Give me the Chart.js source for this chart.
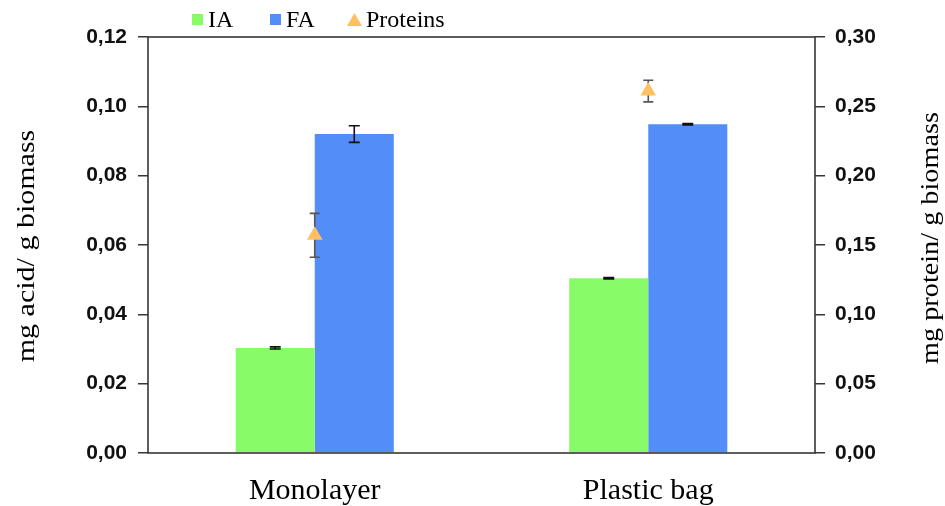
<!DOCTYPE html>
<html><head><meta charset="utf-8">
<script src="https://cdn.jsdelivr.net/npm/chart.js@4/dist/chart.umd.min.js"></script>
<style>html,body{margin:0;padding:0;background:#fff}#wrap{width:945px;height:506px;position:relative}</style>
</head><body><div id="wrap"><canvas id="c"></canvas></div>
<script>
const categories = ['Monolayer', 'Plastic bag'];
const iaValues = [0.0303, 0.0504];
const iaErrors = [0.0003, 0.0002];
const faValues = [0.0920, 0.0948];
const faErrors = [0.0024, 0.0002];
const proteinValues = [0.157, 0.261];
const proteinErrors = [0.0158, 0.0078];
const leftTickLabels = ['0,00', '0,02', '0,04', '0,06', '0,08', '0,10', '0,12'];
const rightTickLabels = ['0,00', '0,05', '0,10', '0,15', '0,20', '0,25', '0,30'];
const leftTitle = 'mg acid/ g biomass';
const rightTitle = 'mg protein/ g biomass';

const FRAME = '#363636';
const errorMap = {0: iaErrors, 1: faErrors, 2: proteinErrors};

function drawErr(chart, idx, color, cap) {
  const meta = chart.getDatasetMeta(idx);
  const ds = chart.data.datasets[idx];
  const scale = chart.scales[meta.yAxisID];
  const errs = errorMap[idx];
  const ctx = chart.ctx;
  ctx.save();
  ctx.strokeStyle = color;
  ctx.lineWidth = 1.6;
  meta.data.forEach((el, j) => {
    const v = ds.data[j], e = errs[j];
    const x = el.x;
    const yt = scale.getPixelForValue(v + e), yb = scale.getPixelForValue(v - e);
    ctx.beginPath();
    ctx.moveTo(x, yt); ctx.lineTo(x, yb);
    ctx.moveTo(x - cap, yt); ctx.lineTo(x + cap, yt);
    ctx.moveTo(x - cap, yb); ctx.lineTo(x + cap, yb);
    ctx.stroke();
  });
  ctx.restore();
}

const errorPlugin = {
  id: 'errbars',
  beforeDatasetDraw(chart, args) {
    if (args.index === 2) drawErr(chart, 2, '#555555', 5);
  },
  afterDatasetDraw(chart, args) {
    if (args.index === 0 || args.index === 1) drawErr(chart, args.index, '#111111', 5.5);
  }
};

const framePlugin = {
  id: 'frame',
  afterDatasetsDraw(chart) {
    const a = chart.chartArea, ctx = chart.ctx;
    ctx.save();
    ctx.strokeStyle = FRAME;
    ctx.lineWidth = 1.6;
    ctx.strokeRect(a.left, a.top, a.right - a.left, a.bottom - a.top);
    ctx.restore();
  }
};

function stretchedText(ctx, text, x, y, font, sx) {
  ctx.save();
  ctx.translate(x, y);
  ctx.rotate(-Math.PI / 2);
  ctx.scale(sx, 1);
  ctx.font = font;
  ctx.fillStyle = '#000';
  ctx.textAlign = 'center';
  ctx.textBaseline = 'middle';
  ctx.fillText(text, 0, 0);
  ctx.restore();
}

const decorPlugin = {
  id: 'decor',
  afterDraw(chart) {
    const ctx = chart.ctx;
    stretchedText(ctx, leftTitle, 27, 246, '25px "Liberation Serif"', 1.2);
    stretchedText(ctx, rightTitle, 931, 238, '25px "Liberation Serif"', 1.13);
    // legend
    const ds = chart.data.datasets;
    ctx.save();
    ctx.font = '24px "Liberation Serif"';
    ctx.textBaseline = 'alphabetic';
    ctx.textAlign = 'left';
    ctx.fillStyle = ds[0].backgroundColor;
    ctx.fillRect(192, 14, 11, 11);
    ctx.fillStyle = ds[1].backgroundColor;
    ctx.fillRect(270, 14, 11, 11);
    ctx.fillStyle = ds[2].pointBackgroundColor;
    ctx.beginPath();
    ctx.moveTo(354.5, 13); ctx.lineTo(362, 26); ctx.lineTo(347, 26); ctx.closePath();
    ctx.fill();
    ctx.fillStyle = '#000';
    ctx.fillText(ds[0].label, 208, 27);
    ctx.fillText(ds[1].label, 286, 27);
    ctx.fillText(ds[2].label, 366, 27);
    ctx.restore();
  }
};

new Chart(document.getElementById('c'), {
  type: 'bar',
  data: {
    labels: categories,
    datasets: [
      {label: 'IA', data: iaValues, backgroundColor: '#88FC68', borderWidth: 0, yAxisID: 'y', order: 1,
       categoryPercentage: 0.474, barPercentage: 1.0},
      {label: 'FA', data: faValues, backgroundColor: '#538EF8', borderWidth: 0, yAxisID: 'y', order: 1,
       categoryPercentage: 0.474, barPercentage: 1.0},
      {label: 'Proteins', type: 'line', data: proteinValues, yAxisID: 'y2', order: 0, showLine: false,
       pointStyle: 'triangle', pointRadius: 9, pointHoverRadius: 9, pointBackgroundColor: '#FFC062',
       pointBorderWidth: 0, borderColor: '#FFC062', backgroundColor: '#FFC062'}
    ]
  },
  options: {
    responsive: true,
    maintainAspectRatio: false,
    animation: false,
    devicePixelRatio: 1,
    layout: {padding: {top: 37, left: 0, right: 0, bottom: 0}},
    plugins: {legend: {display: false}, tooltip: {enabled: false}, title: {display: false}},
    scales: {
      x: {
        type: 'category', offset: true,
        grid: {display: false}, border: {display: false},
        ticks: {font: {family: 'Liberation Serif', size: 30}, color: '#000', padding: 12, maxRotation: 0},
        afterFit(s) { s.height = 53; }
      },
      y: {
        position: 'left', min: 0, max: 0.12,
        ticks: {stepSize: 0.02, callback: (v, i) => leftTickLabels[i],
                font: {family: 'Liberation Sans', weight: 'bold', size: 21}, color: '#111', padding: 11},
        grid: {drawOnChartArea: false, tickLength: 10, color: FRAME, lineWidth: 1.5},
        border: {display: false},
        afterFit(s) { s.width = 148; }
      },
      y2: {
        position: 'right', min: 0, max: 0.30,
        ticks: {stepSize: 0.05, callback: (v, i) => rightTickLabels[i],
                font: {family: 'Liberation Sans', weight: 'bold', size: 21}, color: '#111', padding: 10},
        grid: {drawOnChartArea: false, tickLength: 10, color: FRAME, lineWidth: 1.5},
        border: {display: false},
        afterFit(s) { s.width = 130; }
      }
    }
  },
  plugins: [errorPlugin, framePlugin, decorPlugin]
});
</script>
</body></html>
